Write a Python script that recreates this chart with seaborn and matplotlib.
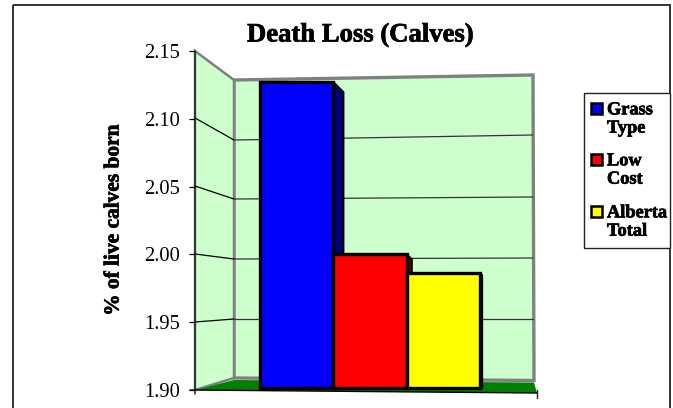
import matplotlib
matplotlib.use("Agg")
import matplotlib.pyplot as plt
import matplotlib.patheffects as pe
import seaborn as sns
import pandas as pd
from matplotlib.patches import Polygon, Rectangle
from matplotlib.transforms import Affine2D

categories = ["Grass Type", "Low Cost", "Alberta Total"]
values = [2.127, 2.000, 1.986]
colors = ["#0000ff", "#ff0000", "#ffff00"]
side_colors = ["#000080", "#800000", "#808000"]
side_depths = [10, 5, 2]
yticks = [1.90, 1.95, 2.00, 2.05, 2.10, 2.15]
ytick_labels = ["1.90", "1.95", "2.00", "2.05", "2.10", "2.15"]
legend_labels = ["Grass\nType", "Low\nCost", "Alberta\nTotal"]

W, H = 673, 408
sns.set_style("white")
plt.rcParams["font.family"] = ["Liberation Serif", "DejaVu Serif"]
plt.rcParams["text.color"] = "black"
plt.rcParams["ytick.color"] = "black"
fig = plt.figure(figsize=(W / 100, H / 100), dpi=100)
ax = fig.add_axes([195 / W, 1 - 390 / H, (536 - 195) / W, (390 - 51) / H], zorder=5)

px = Affine2D().scale(1, -1).translate(0, H)   # pixel coordinates, origin at top left
heavy = [pe.withStroke(linewidth=0.5, foreground="black")]


def poly(pts, **kw):
    fig.add_artist(Polygon(pts, closed=True, transform=px, **kw))


def line(xs, ys, color="black", lw=0.9, z=1):
    fig.add_artist(plt.Line2D(xs, ys, transform=px, color=color, lw=lw, zorder=z))


# Border of the chart area
fig.add_artist(Rectangle((13, 5), 657, 430, transform=px, fill=False, ec="#222222", lw=1.3, zorder=0.1))

# 3D walls and floor
WALL = "#ccffcc"
GREY = "#808080"
poly([(234, 80), (533, 75), (534, 380.5), (234, 378)], fc=WALL, ec=GREY, lw=2.4, zorder=0.5)
poly([(195, 51), (234, 80), (234, 378), (195, 390)], fc=WALL, ec=GREY, lw=1.8, zorder=0.6)
poly([(195, 390), (234, 380), (534, 382.5), (537, 393)], fc="#008000", ec="none", zorder=0.7)
line([194.5, 194.5], [51, 394], color="#222222", lw=1.1, z=0.8)
line([190, 537], [390, 393], color="black", lw=1.0, z=0.8)
line([537, 537], [390, 398], color="#222222", lw=1.0, z=0.8)

# Grid lines on the walls
for y0, y1, y2 in [(118, 140, 135), (186, 199, 197), (254, 259, 258), (322, 319, 319)]:
    line([195, 234], [y0, y1], z=0.9)
    line([234, 533], [y1, y2], color="#333333", z=0.9)

df = pd.DataFrame({"category": categories, "value": values})
ax.patch.set_alpha(0)
sns.barplot(data=df, x="category", y="value", hue="category", palette=colors,
            width=1.0, dodge=False, legend=False, edgecolor="black", linewidth=2.4,
            saturation=1, ax=ax, zorder=3)

ax.set_xlim(-0.5 - (260 - 195) / 73.4, 2.5 + (536 - 480) / 73.4)
ax.set_ylim(1.90, 2.15)
ax.set_yticks(yticks, ytick_labels, fontsize=14.8)
ax.set_xticks([])
ax.set_xlabel("")
ax.set_ylabel("")
for s in ax.spines.values():
    s.set_visible(False)
ax.tick_params(axis="y", left=True, length=4, width=0.9, pad=7, color="black")

# The bars stand slightly inside the floor, as in the 3D view
bar_base = 1.9015
for bar, v in zip(ax.patches, values):
    bar.set_y(bar_base)
    bar.set_height(v - bar_base)
    bar.set_clip_on(False)

# Side faces of the bars, taken from the bars themselves
fig.canvas.draw()
for bar, side, d in zip(ax.patches, side_colors, side_depths):
    (x0, y0), (x1, y1) = bar.get_window_extent().get_points()
    top, right, bottom = H - y1, x1, H - y0
    ax.add_patch(Polygon([(right, top), (right + d, top + d), (right + d, bottom), (right, bottom)],
                         closed=True, transform=px, fc=side, ec="black", lw=1.6, zorder=2.5, clip_on=False))

fig.text(360 / W, 1 - 35 / H, "Death Loss (Calves)", ha="center", va="center",
         fontsize=19.2, fontweight="bold", path_effects=heavy)
fig.text(113.5 / W, 1 - 220 / H, "% of live calves born", rotation=90, ha="center", va="center",
         fontsize=15.4, fontweight="bold", path_effects=heavy)

# Legend
fig.add_artist(Rectangle((584, 93), 86, 155, transform=px, fc="white", ec="#222222", lw=1, zorder=0.2))
for c, lab, y in zip(colors, legend_labels, [108, 159, 211]):
    fig.add_artist(Rectangle((591, y - 5), 11, 11, transform=px, fc=c, ec="black", lw=1.8, zorder=1))
    fig.text(607 / W, 1 - (y + 11) / H, lab, ha="left", va="center", multialignment="left",
             fontsize=13.2, fontweight="bold", linespacing=1.1, path_effects=heavy)

fig.savefig("out.png", dpi=100)
